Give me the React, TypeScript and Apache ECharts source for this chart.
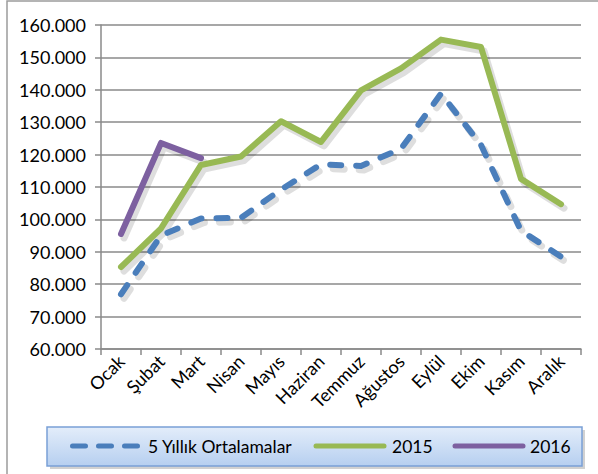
import React, { useEffect, useRef } from "react";
import * as echarts from "echarts";

const months = ["Ocak", "Şubat", "Mart", "Nisan", "Mayıs", "Haziran", "Temmuz", "Ağustos", "Eylül", "Ekim", "Kasım", "Aralık"];
const avg5 = [76900, 95000, 100300, 100500, 109200, 117000, 116500, 121800, 138800, 123000, 96500, 88500];
const y2015 = [85300, 97200, 116800, 119400, 130300, 123900, 139800, 146600, 155500, 153200, 112500, 104700];
const y2016 = [95500, 123600, 118900, null, null, null, null, null, null, null, null, null];
const seriesNames = ["5 Yıllık Ortalamalar", "2015", "2016"];
const colors = ["#4a7ebb", "#98b954", "#7d60a0"];

const FONT = "Lato, 'Open Sans', sans-serif";

function fmt(v: number) {
  return String(Math.round(v)).replace(/\B(?=(\d{3})+(?!\d))/g, ".");
}

export default function App() {
  const ref = useRef<HTMLDivElement>(null);
  useEffect(() => {
    if (!ref.current) return;
    const chart = echarts.init(ref.current, undefined, { renderer: "svg" });
    const allData = [avg5, y2015, y2016];
    const dashed = [true, false, false];

    const mainSeries = allData.map((d, i) => ({
      name: seriesNames[i],
      type: "line",
      data: d,
      symbol: "none",
      xAxisIndex: 0,
      yAxisIndex: 0,
      itemStyle: { color: colors[i] },
      lineStyle: {
        color: colors[i],
        width: 6,
        type: dashed[i] ? [11, 15] : "solid",
        cap: "round",
        join: "round",
      },
      z: [4, 3, 5][i],
    }));
    const shadowSeries = allData.map((d, i) => ({
      name: seriesNames[i] + " gölge",
      type: "line",
      data: d,
      symbol: "none",
      xAxisIndex: 1,
      yAxisIndex: 1,
      silent: true,
      lineStyle: {
        color: "rgba(0,0,0,0.13)",
        width: 7,
        type: dashed[i] ? [11, 15] : "solid",
        cap: "round",
        join: "round",
      },
      z: 1,
    }));

    // manual legend
    const ly = 446;
    const legendItems = [
      { x0: 72.5, x1: 137.5, tx: 148 },
      { x0: 316, x1: 384, tx: 392 },
      { x0: 455, x1: 523, tx: 530 },
    ];
    const legendGraphics: any[] = [];
    legendItems.forEach((it, i) => {
      legendGraphics.push({
        type: "line",
        shape: { x1: it.x0, y1: ly, x2: it.x1, y2: ly },
        style: {
          stroke: colors[i],
          lineWidth: 5,
          lineCap: "round",
          lineDash: dashed[i] ? [13, 13] : null,
        },
        silent: true,
        z: 10,
      });
      legendGraphics.push({
        type: "text",
        x: it.tx,
        y: ly,
        style: {
          text: seriesNames[i],
          fill: "#000",
          font: `17.5px ${FONT}`,
          textVerticalAlign: "middle",
          verticalAlign: "middle",
        },
        silent: true,
        z: 10,
      });
    });

    const hiddenAxis = {
      show: false,
    };

    chart.setOption({
      animation: false,
      backgroundColor: "#fff",
      textStyle: { fontFamily: FONT },
      graphic: [
        {
          type: "rect",
          shape: { x: 7, y: 1, width: 600, height: 490 },
          style: { fill: "none", stroke: "#9c9c9c", lineWidth: 1.5 },
          silent: true,
          z: 0,
        },
        {
          type: "rect",
          shape: { x: 50, y: 430, width: 535, height: 39 },
          style: { fill: "rgba(0,0,0,0.18)" },
          silent: true,
          z: 8,
        },
        {
          type: "rect",
          shape: { x: 47, y: 427, width: 535, height: 39 },
          style: {
            fill: new echarts.graphic.LinearGradient(0, 0, 0, 1, [
              { offset: 0, color: "#e3edfa" },
              { offset: 1, color: "#b6cff0" },
            ]),
            stroke: "#79a0d6",
            lineWidth: 1.5,
          },
          silent: true,
          z: 9,
        },
        ...legendGraphics,
      ],
      grid: [
        { left: 101, right: 17, top: 25, bottom: 125, containLabel: false, outerBoundsMode: "none" },
        { left: 104, right: 14, top: 29, bottom: 121, containLabel: false, outerBoundsMode: "none", show: false },
      ],
      xAxis: [
        {
          type: "category",
          gridIndex: 0,
          data: months,
          boundaryGap: true,
          axisLine: { show: true, lineStyle: { color: "#8a8a8a", width: 1.5 } },
          axisTick: { show: true, length: 6, alignWithLabel: false, lineStyle: { color: "#8a8a8a", width: 1.5 } },
          axisLabel: { rotate: 45, fontSize: 18, color: "#000", margin: 9, interval: 0, fontFamily: FONT },
          splitLine: { show: false },
          z: 2,
        },
        { type: "category", gridIndex: 1, data: months, boundaryGap: true, ...hiddenAxis },
      ],
      yAxis: [
        {
          type: "value",
          gridIndex: 0,
          min: 60000,
          max: 160000,
          interval: 10000,
          axisLine: { show: true, lineStyle: { color: "#8a8a8a", width: 1.5 } },
          axisTick: { show: true, length: 6, lineStyle: { color: "#8a8a8a", width: 1.5 } },
          axisLabel: { fontSize: 18, color: "#000", margin: 15, formatter: (v: number) => fmt(v), fontFamily: FONT },
          splitLine: { show: true, lineStyle: { color: "#8a8a8a", width: 1.5 } },
          z: 0,
        },
        { type: "value", gridIndex: 1, min: 60000, max: 160000, interval: 10000, ...hiddenAxis },
      ],
      series: [...shadowSeries, ...mainSeries],
    });
    return () => chart.dispose();
  }, []);
  return <div ref={ref} style={{ position: "fixed", left: 0, top: 0, width: 598, height: 474 }} />;
}
